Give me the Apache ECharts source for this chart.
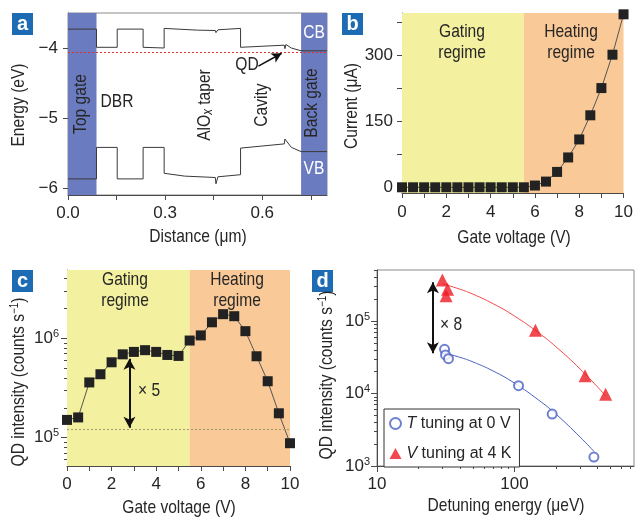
<!DOCTYPE html>
<html><head><meta charset="utf-8">
<script src="https://cdn.jsdelivr.net/npm/echarts@6/dist/echarts.min.js"></script>
<style>html,body{margin:0;padding:0;background:#fff}#c{width:636px;height:518px}</style>
</head><body><div id="c"></div>
<script>
const FONT = "'Liberation Sans',Arial,Helvetica,sans-serif";
const TXT = '#262626';
const AX = '#4a4a4a';
const NARROW = 0.82;

// ---------- Panel a : band profile ----------
const aCB = [[0,-3.73],[0.088,-3.73],[0.088,-3.99],[0.152,-3.99],[0.152,-3.73],[0.232,-3.73],[0.232,-3.99],[0.297,-4.0],[0.297,-3.72],[0.40,-3.745],[0.455,-3.75],[0.457,-3.78],[0.462,-3.78],[0.463,-3.74],[0.533,-3.72],[0.533,-3.99],[0.668,-3.96],[0.670,-4.01],[0.673,-3.95],[0.69,-4.0],[0.72,-4.04],[0.8,-4.04]];
const aVB = [[0,-5.87],[0.088,-5.87],[0.088,-5.42],[0.152,-5.42],[0.152,-5.87],[0.232,-5.87],[0.232,-5.42],[0.297,-5.42],[0.297,-5.79],[0.36,-5.83],[0.455,-5.85],[0.457,-5.94],[0.462,-5.94],[0.463,-5.84],[0.533,-5.81],[0.533,-5.43],[0.668,-5.37],[0.670,-5.30],[0.69,-5.42],[0.72,-5.48],[0.8,-5.48]];
const aQDLevel = -4.06;
const aTopGate = [0, 0.088];
const aBackGate = [0.72, 0.8];
const aQDArrow = [[0.588,-4.26],[0.66,-4.075]];
const aXTicks = [0,0.15,0.3,0.45,0.6,0.75];
const aXLabels = [0,0.3,0.6];
const aYTicks = [-6,-5,-4];

// ---------- Panel b : current ----------
const bVoltage = [0,0.5,1,1.5,2,2.5,3,3.5,4,4.5,5,5.5,6,6.5,7,7.5,8,8.5,9,9.5,10];
const bCurrent = [0,0,0,0,0,0,0,0,0,0,0,0,4,13,35,68,109,164,226,302,394];
const bYTicks = [0,75,150,225,300,375];
const bYLabels = [0,150,300];
const vTicks = [0,1,2,3,4,5,6,7,8,9,10];
const vLabels = [0,2,4,6,8,10];
const regimeSplit = 5.5;

// ---------- Panel c : QD intensity vs gate voltage ----------
const cVoltage = [0,0.5,1,1.5,2,2.5,3,3.5,4,4.5,5,5.5,6,6.5,7,7.5,8,8.5,9,9.5,10];
const cIntensity = [1.51e5,1.6e5,3.6e5,4.35e5,5.74e5,6.9e5,7.3e5,7.6e5,7.3e5,6.8e5,6.65e5,9.5e5,1.07e6,1.45e6,1.75e6,1.67e6,1.18e6,6.6e5,3.7e5,1.76e5,8.8e4];
const cRefLevel = 1.22e5;
const cArrow = [[2.8,6.24e5],[2.8,1.26e5]];
const cYMajor = [1e5,1e6];
const cYMinor = [6e4,7e4,8e4,9e4,2e5,3e5,4e5,5e5,6e5,7e5,8e5,9e5,2e6,3e6,4e6];
const cYRange = [5.19e4, 4.87e6];

// ---------- Panel d : detuning ----------
const dTDetuning = [31,31.5,33.1,107,188,378];
const dTIntensity = [4.07e4,3.4e4,3.02e4,1.28e4,5.2e3,1.33e3];
const dVDetuning = [29.9,32.6,31.8,142,326,460];
const dVIntensity = [3.68e5,2.74e5,2.23e5,7.45e4,1.76e4,9.75e3];
const dTFitX = [31,40,50,70,100,150,200,300,378];
const dTFitY = [3.61e4,3.16e4,2.72e4,2.04e4,1.39e4,8.1e3,5.2e3,2.51e3,1.59e3];
const dVFitX = [30,40,50,70,100,150,200,300,460];
const dVFitY = [3.25e5,2.75e5,2.34e5,1.73e5,1.17e5,6.85e4,4.42e4,2.18e4,9.3e3];
const dArrow = [[25.5,3.42e5],[25.5,3.58e4]];
const dXMajor = [10,100];
const dXMinor = [20,30,40,50,60,70,80,90,200,300,400,500,600,700];
const dYMajor = [1e3,1e4,1e5];
const dYMinor = [2e3,3e3,4e3,5e3,6e3,7e3,8e3,9e3,2e4,3e4,4e4,5e4,6e4,7e4,8e4,9e4,2e5,3e5,4e5,5e5];
const dXRange = [10, 740];
const dYRange = [1e3, 5.05e5];

const zip = (a,b) => a.map((v,i)=>[v,b[i]]);
const lg = v => Math.log10(v);

const RICH = {
  b:{fontSize:17, fontFamily:FONT, color:TXT, lineHeight:20},
  s:{fontSize:11, fontFamily:FONT, color:TXT, lineHeight:11, verticalAlign:'top'}
};
function axLine(show){ return {show:show, onZero:false, lineStyle:{color:AX, width:1}}; }
function tick(vals, len){ return vals ? {show:true, inside:false, length:len, customValues:vals, lineStyle:{color:AX,width:1}} : {show:false}; }
function lab(vals, margin, fmt){ return vals ? {show:true, customValues:vals, margin:margin, formatter:fmt, color:TXT, fontFamily:FONT, fontSize:17, rich:RICH} : {show:false}; }
function vAxis(grid, min, max, line, tv, tl, lv, margin, fmt){
  return {type:'value', gridIndex:grid, min:min, max:max, axisLine:axLine(line), axisTick:tick(tv,tl), axisLabel:lab(lv,margin,fmt), splitLine:{show:false}};
}
const pow10 = v => '{b|10}{s|' + Math.round(v) + '}';
const minus = v => (v<0?'\u2212':'') + Math.abs(v);

const grids = [
  {left:68, top:13, width:259, height:182, show:true, borderColor:'#8a8a8a', borderWidth:1}, // a
  {left:402, top:13, width:224, height:180}, // b
  {left:67, top:270, width:223, height:196}, // c
  {left:67, top:270, width:223, height:196}, // c overlay major
  {left:67, top:270, width:223, height:196}, // c overlay minor
  {left:377, top:270, width:257, height:196, show:true, borderColor:'#8a8a8a', borderWidth:1}, // d
  {left:377, top:270, width:257, height:196}, // d overlay major
  {left:377, top:270, width:257, height:196}  // d overlay minor
];

const xAxes = [
  vAxis(0, 0, 0.8, true, aXTicks, 5, aXLabels, 10, v=>v.toFixed(1)),
  vAxis(1, 0, 10, true, vTicks, 5, vLabels, 11, v=>String(v)),
  vAxis(2, 0, 10, true, vTicks, 5, vLabels, 10, v=>String(v)),
  {type:'value', gridIndex:3, min:0, max:10, show:false},
  {type:'value', gridIndex:4, min:0, max:10, show:false},
  {type:'log', gridIndex:5, min:dXRange[0], max:dXRange[1], axisLine:axLine(true), axisTick:{show:false}, axisLabel:{show:false}, splitLine:{show:false}},
  vAxis(6, lg(dXRange[0]), lg(dXRange[1]), false, dXMajor.map(lg), 6, dXMajor.map(lg), 10, v=>String(Math.round(Math.pow(10,v)))),
  vAxis(7, lg(dXRange[0]), lg(dXRange[1]), false, dXMinor.map(lg), 3, null)
];
const yAxes = [
  vAxis(0, -6.1, -3.5, true, aYTicks, 5, aYTicks, 10, minus),
  vAxis(1, -13, 397, true, bYTicks, 5, bYLabels, 9, v=>String(v)),
  {type:'log', gridIndex:2, min:cYRange[0], max:cYRange[1], axisLine:axLine(true), axisTick:{show:false}, axisLabel:{show:false}, splitLine:{show:false}},
  vAxis(3, lg(cYRange[0]), lg(cYRange[1]), false, cYMajor.map(lg), 6, cYMajor.map(lg), 8, pow10),
  vAxis(4, lg(cYRange[0]), lg(cYRange[1]), false, cYMinor.map(lg), 3, null),
  {type:'log', gridIndex:5, min:dYRange[0], max:dYRange[1], axisLine:axLine(true), axisTick:{show:false}, axisLabel:{show:false}, splitLine:{show:false}},
  vAxis(6, lg(dYRange[0]), lg(dYRange[1]), false, dYMajor.map(lg), 6, dYMajor.map(lg), 7, pow10),
  vAxis(7, lg(dYRange[0]), lg(dYRange[1]), false, dYMinor.map(lg), 3, null)
];

const YEL = '#f3f09f', ORA = '#f9c997', GATE = '#6b7bbf';
const noLbl = {show:false};

const series = [
  // panel a
  {type:'line', xAxisIndex:0, yAxisIndex:0, data:[], z:1, silent:true,
   markArea:{silent:true, itemStyle:{color:GATE, opacity:1}, label:noLbl,
     data:[[{xAxis:aTopGate[0]},{xAxis:aTopGate[1]}],[{xAxis:aBackGate[0]},{xAxis:aBackGate[1]}]]},
   markLine:{silent:true, symbol:['none','none'], label:noLbl, lineStyle:{color:'#e23030', type:[2,2], width:1},
     data:[{yAxis:aQDLevel}]}},
  {type:'line', xAxisIndex:0, yAxisIndex:0, data:aCB, symbol:'none', z:3, silent:true,
   lineStyle:{color:'#3a3a3a', width:1},
   markLine:{silent:true, symbol:['none','arrow'], symbolSize:[8,10], label:noLbl, lineStyle:{color:'#111', width:1.5, type:'solid'},
     data:[[{coord:aQDArrow[0]},{coord:aQDArrow[1]}]]}},
  {type:'line', xAxisIndex:0, yAxisIndex:0, data:aVB, symbol:'none', z:3, silent:true,
   lineStyle:{color:'#3a3a3a', width:1}},
  // panel b
  {type:'line', xAxisIndex:1, yAxisIndex:1, data:[], z:1, silent:true,
   markArea:{silent:true, label:noLbl,
     data:[[{xAxis:0, itemStyle:{color:YEL, opacity:1}},{xAxis:regimeSplit}],[{xAxis:regimeSplit, itemStyle:{color:ORA, opacity:1}},{xAxis:10}]]}},
  {type:'line', xAxisIndex:1, yAxisIndex:1, data:zip(bVoltage,bCurrent), z:3, silent:true,
   symbol:'rect', symbolSize:10, itemStyle:{color:'#222'}, lineStyle:{color:'#555', width:1}},
  // panel c
  {type:'line', xAxisIndex:2, yAxisIndex:2, data:[], z:1, silent:true,
   markArea:{silent:true, label:noLbl,
     data:[[{xAxis:0, itemStyle:{color:YEL, opacity:1}},{xAxis:regimeSplit}],[{xAxis:regimeSplit, itemStyle:{color:ORA, opacity:1}},{xAxis:10}]]},
   markLine:{silent:true, symbol:['none','none'], label:noLbl, lineStyle:{color:'#a09a70', type:[2,2], width:1},
     data:[{yAxis:cRefLevel}]}},
  {type:'line', xAxisIndex:2, yAxisIndex:2, data:zip(cVoltage,cIntensity), z:3, silent:true,
   symbol:'rect', symbolSize:10, itemStyle:{color:'#222'}, lineStyle:{color:'#555', width:1},
   markLine:{silent:true, symbol:['arrow','arrow'], symbolSize:[9,11], label:noLbl, lineStyle:{color:'#111', width:2, type:'solid'},
     data:[[{coord:cArrow[0]},{coord:cArrow[1]}]]}},
  // panel d
  {type:'line', name:'Tfit', xAxisIndex:5, yAxisIndex:5, data:zip(dTFitX,dTFitY), smooth:true, symbol:'none', z:2, silent:true,
   lineStyle:{color:'#4a62c4', width:1}},
  {type:'line', name:'Vfit', xAxisIndex:5, yAxisIndex:5, data:zip(dVFitX,dVFitY), smooth:true, symbol:'none', z:2, silent:true,
   lineStyle:{color:'#f04a4a', width:1}},
  {type:'scatter', name:'T tuning at 0 V', xAxisIndex:5, yAxisIndex:5, data:zip(dTDetuning,dTIntensity), z:3, silent:true,
   symbol:'emptyCircle', symbolSize:9, itemStyle:{color:'#4a62c4', borderWidth:1},
   markLine:{silent:true, symbol:['arrow','arrow'], symbolSize:[9,11], label:noLbl, lineStyle:{color:'#111', width:2, type:'solid'},
     data:[[{coord:dArrow[0]},{coord:dArrow[1]}]]}},
  {type:'scatter', name:'V tuning at 4 K', xAxisIndex:5, yAxisIndex:5, data:zip(dVDetuning,dVIntensity), z:4, silent:true,
   symbol:'triangle', symbolSize:13, itemStyle:{color:'#ee1c24'}}
];

function txt(x,y,text,opt){
  opt = opt||{};
  return {type:'text', x:x, y:y, rotation:opt.rot||0, scaleX:opt.sx||NARROW, z:50, silent:true,
    style:{text:text, fontFamily:FONT, fontSize:opt.size||19, fontWeight:opt.weight||'normal', fill:opt.color||TXT,
      align:opt.align||'center', verticalAlign:'middle', lineHeight:opt.lh||21, rich:opt.rich}};
}
function badge(x,y,letter){
  return [{type:'rect', shape:{x:x,y:y,width:21,height:22}, style:{fill:'#1d6cb3'}, z:49, silent:true},
          txt(x+10.5,y+11,letter,{color:'#fff', weight:'bold', size:20, sx:1})];
}
const R90 = Math.PI/2;
const supRich = {
  n:{fontFamily:FONT, fontSize:19, color:TXT, lineHeight:21},
  s:{fontFamily:FONT, fontSize:12, color:TXT, lineHeight:12, verticalAlign:'top'},
  i:{fontFamily:FONT, fontSize:14, color:TXT, fontStyle:'italic', lineHeight:14, verticalAlign:'bottom'}
};
const elements = [].concat(
  [
    // panel a labels
    txt(81,104,'Top gate',{rot:R90}),
    txt(117,102,'DBR'),
    txt(205,105,'{n|AlO}{i|x}{n| taper}',{rot:R90, rich:supRich}),
    txt(262,105,'Cavity',{rot:R90}),
    txt(312,103,'Back gate',{rot:R90}),
    txt(314,33,'CB',{color:'#fff'}),
    txt(314,169,'VB',{color:'#fff'}),
    txt(247,65,'QD'),
    txt(19,105,'Energy (eV)',{rot:R90}),
    txt(198,237,'Distance (\u03bcm)'),
    // panel b labels
    txt(462,42,'Gating\nregime'),
    txt(571,42,'Heating\nregime'),
    txt(352,106,'Current (\u03bcA)',{rot:R90}),
    txt(514,238,'Gate voltage (V)'),
    // panel c labels
    txt(125,290,'Gating\nregime'),
    txt(237,290,'Heating\nregime'),
    txt(138,391,'\u00d7 5',{align:'left'}),
    txt(19,382,'{n|QD intensity (counts s}{s|\u22121}{n|)}',{rot:R90, rich:supRich}),
    txt(179,508,'Gate voltage (V)'),
    // panel d labels
    txt(440,325,'\u00d7 8',{align:'left'}),
    txt(327,375,'{n|QD intensity (counts s}{s|\u22121}{n|)}',{rot:R90, rich:supRich}),
    txt(506,506,'Detuning energy (\u03bceV)')
  ],
  badge(12,13,'a'), badge(342,13,'b'), badge(12,270,'c'), badge(312,270,'d')
);

const chart = echarts.init(document.getElementById('c'), null, {renderer:'canvas'});
chart.setOption({
  animation:false,
  backgroundColor:'#fff',
  textStyle:{fontFamily:FONT},
  grid:grids, xAxis:xAxes, yAxis:yAxes, series:series,
  legend:{data:['T tuning at 0 V','V tuning at 4 K'], orient:'vertical', left:384, top:409,
    padding:[4,8,3,5], itemGap:9, itemWidth:12, itemHeight:11, selectedMode:false,
    borderColor:'#333', borderWidth:1, backgroundColor:'#fff',
    formatter: n => '{i|' + n[0] + '}' + n.slice(1),
    textStyle:{fontFamily:FONT, fontSize:16, color:TXT, lineHeight:21, rich:{i:{fontFamily:FONT, fontSize:16, color:TXT, fontStyle:'italic', lineHeight:21}}}},
  graphic:{elements:elements}
});
</script></body></html>
